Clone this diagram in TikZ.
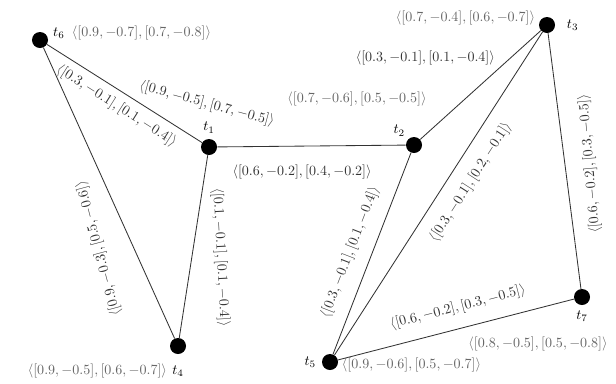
\documentclass[tikz,border=0pt]{standalone}
\usepackage{amsmath}
\usepackage{tikz}
\usetikzlibrary{arrows.meta,positioning}
\begin{document}
\begin{tikzpicture}[
		x=0.025cm, y=-0.025cm,
		vertex/.style={
			circle,
			fill=black,
			minimum size=4mm,
			inner sep=0pt
		},
		tname/.style={
			inner sep=1pt
		},
		tval/.style={
			text=black!60,
			inner sep=1pt
		},
		link/.style={
			draw=black!80,
			line width=0.6pt
		},
		lval/.style={
			text=black!80,
			inner sep=1pt
		}
		]
		
		\useasboundingbox (0,0) rectangle (616,383);
		
		% Vertices
		\node[vertex] (t6) at (40,40) {};
		\node[vertex] (t1) at (209,147) {};
		\node[vertex] (t2) at (414,145) {};
		\node[vertex] (t3) at (547,25) {};
		\node[vertex] (t4) at (178,346) {};
		\node[vertex] (t5) at (330,362) {};
		\node[vertex] (t7) at (582,297) {};
		
		% Names and values
		\node[tname, right=0.08cm of t6, yshift=5pt] (t6n) {$t_6$};
		\node[tval, right=0.1cm of t6n] {$\langle[0.9,-0.7],[0.7,-0.8]\rangle$};
		
		\node[tname, above=0.1cm of t1] (t1n) {$t_1$};
		\node[lval, rotate=-15] (t1v) at (207,104) {$\langle[0.9,-0.5],[0.7,-0.5]\rangle$};
		
		\node[tname, above left=0.05cm of t2] (t2n) {$t_2$};
		\node[tval] (t2v) at (357,99) {$\langle[0.7,-0.6],[0.5,-0.5]\rangle$};
		
		\node[tname, right=0.25cm of t3] (t3n) {$t_3$};
		\node[tval, left=0.05cm of t3, yshift=5pt] {$\langle[0.7,-0.4],[0.6,-0.7]\rangle$};
		
		\node[tname, below=0.25cm of t4] (t4n) {$t_4$};
		\node[tval, left=0.05cm of t4n] {$\langle[0.9,-0.5],[0.6,-0.7]\rangle$};
		
		\node[tname, left=0.1cm of t5] (t5n) {$t_5$};
		\node[tval, right=0.05cm of t5, yshift=-2pt] {$\langle[0.9,-0.6],[0.5,-0.7]\rangle$};
		
		\node[tname, below=0.1cm of t7] (t7n) {$t_7$};
		\node[tval] (t7v) at (538,344) {$\langle[0.8,-0.5],[0.5,-0.8]\rangle$};
		
		% Connections
		\draw[link] (t6) -- (t1) node[lval, midway, sloped, below=0.15cm] {$\langle[0.3,-0.1],[0.1,-0.4]\rangle$};
		\draw[link] (t1) -- (t2) node[lval, pos=0.45, below=0.42cm] {$\langle[0.6,-0.2],[0.4,-0.2]\rangle$};
		\draw[link] (t1) -- (t4) node[lval, pos=0.56, xshift=0.72cm, rotate=-87] {$\langle[0.1,-0.1],[0.1,-0.4]\rangle$};
		\draw[link] (t6) -- (t4) node[lval, pos=0.69, xshift=-0.88cm, rotate=105] {$\langle[0.9,-0.3],[0.5,-0.6]\rangle$};
		\draw[link] (t2) -- (t3) node[lval, pos=0.75, left=0.35cm] {$\langle[0.3,-0.1],[0.1,-0.4]\rangle$};
		\draw[link] (t5) -- (t2) node[lval, pos=0.47, sloped, above=0.3cm] {$\langle[0.3,-0.1],[0.1,-0.4]\rangle$};
		\draw[link] (t5) -- (t3) node[lval, pos=0.57, sloped, below=0.3cm] {$\langle[0.3,-0.1],[0.2,-0.1]\rangle$};
		\draw[link] (t3) -- (t7) node[lval, pos=0.51, xshift=0.62cm, rotate=95] {$\langle[0.6,-0.2],[0.3,-0.5]\rangle$};
		\draw[link] (t5) -- (t7) node[lval, pos=0.53, sloped, above=0.3cm] {$\langle[0.6,-0.2],[0.3,-0.5]\rangle$};
		
	\end{tikzpicture}
\end{document}
